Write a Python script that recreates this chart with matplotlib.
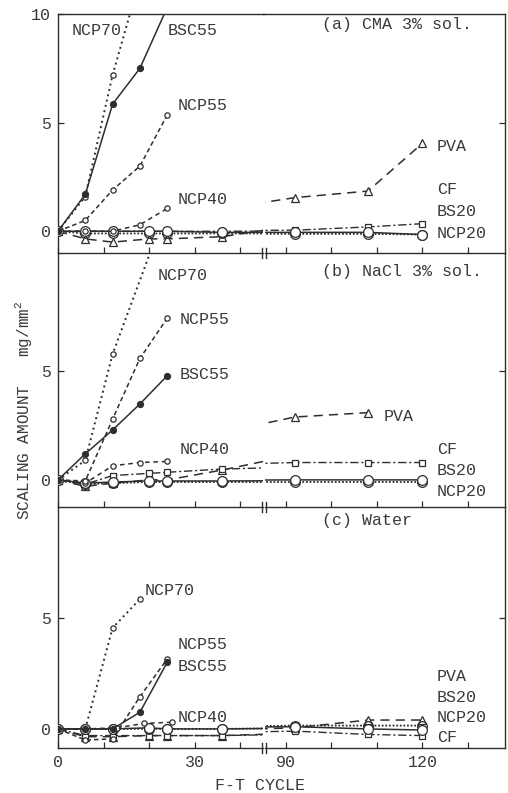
import matplotlib
matplotlib.use('Agg')
import matplotlib.pyplot as plt
from matplotlib.lines import Line2D

# ---- data (F-T cycles, scaling amount mg/mm2) ----
SHORT_X = [0, 6, 12, 18, 24]
LONG_X = [0, 6, 12, 20, 24, 36, 92, 108, 120]
TICKS_L = [0, 10, 20, 30, 40]; XLAB_L = ['0', '', '', '30', '']
TICKS_R = [90, 100, 110, 120, 130]; XLAB_R = ['90', '', '', '120', '']

# (a) CMA 3% sol.
a_ncp70_x = [0, 6, 12, 18]; a_ncp70 = [0, 1.6, 7.2, 11.6]
a_bsc55 = [0, 1.7, 5.85, 7.5, 10.3]
a_ncp55 = [0, 0.5, 1.9, 3.0, 5.35]
a_ncp40 = [0, 0, 0, 0.3, 1.05]
a_ncp20 = [0, 0, 0, 0, 0, -0.05, -0.05, -0.05, -0.15]
a_bs20 = [0, -0.1, -0.1, -0.1, -0.1, -0.1, -0.12, -0.12, -0.15]
a_cf = [0, 0, 0, 0, 0, 0, 0.05, 0.2, 0.35]
a_pva = [0, -0.35, -0.5, -0.35, -0.35, -0.25, 1.55, 1.85, 4.05]

# (b) NaCl 3% sol.
b_ncp70_x = [0, 6, 12, 24]; b_ncp70 = [0, 0.9, 5.8, 12.6]
b_ncp55 = [0, -0.05, 2.8, 5.6, 7.45]
b_bsc55 = [0, 1.2, 2.3, 3.5, 4.8]
b_ncp40 = [0, -0.15, 0.65, 0.8, 0.85]
b_ncp20 = [0, -0.15, -0.1, -0.05, -0.05, -0.05, 0, 0, 0]
b_bs20 = [0, -0.2, -0.15, -0.1, -0.1, -0.1, -0.1, -0.1, -0.1]
b_cf = [0, -0.2, 0.2, 0.3, 0.35, 0.5, 0.8, 0.8, 0.8]
b_pva_x = [0, 6, 12, 20, 24, 36, 92, 108]; b_pva = [0, -0.3, -0.15, 0, 0, 0.45, 2.9, 3.1]

# (c) Water
c_ncp70_x = [0, 6, 12, 18]; c_ncp70 = [0, 0, 4.55, 5.85]
c_ncp55 = [0, -0.5, -0.45, 1.45, 3.15]
c_bsc55 = [0, 0, 0, 0.75, 3.0]
c_ncp40_x = [0, 6, 13, 19, 25]; c_ncp40 = [0, 0, 0.05, 0.25, 0.3]
c_ncp20 = [0, 0, 0, 0.05, 0, 0, 0.1, 0, -0.05]
c_bs20 = [0, 0, 0, 0, 0, 0, 0.15, 0.15, 0.15]
c_cf = [0, -0.3, -0.3, -0.3, -0.3, -0.3, -0.1, -0.25, -0.3]
c_pva = [0, -0.35, -0.35, -0.3, -0.3, -0.3, 0.05, 0.4, 0.4]

INK = '#2e2e2e'; TXT = '#3a3a3a'
plt.rcParams['font.family'] = ['Liberation Mono', 'DejaVu Sans Mono']
plt.rcParams['font.size'] = 12
plt.rcParams['mathtext.fontset'] = 'custom'
plt.rcParams['mathtext.rm'] = 'Liberation Mono'

STY = {
    'PVA':   dict(ls=(0, (6, 4)), marker='^', ms=6, mfc='white', lw=1.1, zorder=2),
    'CF':    dict(ls=(0, (6, 2, 1.5, 2)), marker='s', ms=4.5, mfc='white', lw=1.0, zorder=2),
    'BS20':  dict(ls=(0, (1, 1)), marker='o', ms=7, mfc='none', lw=1.3, zorder=3),
    'NCP20': dict(ls='-', marker='o', ms=7, mfc='white', lw=1.1, zorder=3),
    'NCP40': dict(ls=(0, (3, 2.5)), marker='o', ms=3.8, mfc='white', lw=1.1, zorder=4),
    'NCP55': dict(ls=(0, (3, 2)), marker='o', ms=3.8, mfc='white', lw=1.1, zorder=4),
    'NCP70': dict(ls=(0, (1, 1.8)), marker='o', ms=3.8, mfc='white', lw=1.4, zorder=4),
    'BSC55': dict(ls='-', marker='o', ms=4.3, mfc=INK, lw=1.1, zorder=4),
}

panels = [
    dict(top=14, bot=253, ylim=(-1.0, 10.0), yt=[0, 5, 10], title='(a) CMA 3% sol.', ty=9.5,
         series=[('PVA', LONG_X, a_pva), ('CF', LONG_X, a_cf), ('BS20', LONG_X, a_bs20),
                 ('NCP20', LONG_X, a_ncp20), ('NCP40', SHORT_X, a_ncp40), ('NCP55', SHORT_X, a_ncp55),
                 ('NCP70', a_ncp70_x, a_ncp70), ('BSC55', SHORT_X, a_bsc55)],
         lab_l=[('NCP70', 3.1, 9.25), ('BSC55', 24.2, 9.25), ('NCP55', 26.4, 5.8), ('NCP40', 26.4, 1.45)],
         lab_r=[('PVA', 123.2, 3.9), ('CF', 123.2, 1.9), ('BS20', 123.2, 0.9), ('NCP20', 123.2, -0.1)]),
    dict(top=253, bot=507, ylim=(-1.25, 10.46), yt=[0, 5], title='(b) NaCl 3% sol.', ty=9.63,
         series=[('PVA', b_pva_x, b_pva), ('CF', LONG_X, b_cf), ('BS20', LONG_X, b_bs20),
                 ('NCP20', LONG_X, b_ncp20), ('NCP40', SHORT_X, b_ncp40), ('NCP55', SHORT_X, b_ncp55),
                 ('NCP70', b_ncp70_x, b_ncp70), ('BSC55', SHORT_X, b_bsc55)],
         lab_l=[('NCP70', 21.8, 9.4), ('NCP55', 26.8, 7.4), ('BSC55', 26.8, 4.85), ('NCP40', 26.8, 1.4)],
         lab_r=[('PVA', 111.4, 2.9), ('CF', 123.2, 1.4), ('BS20', 123.2, 0.45), ('NCP20', 123.2, -0.55)]),
    dict(top=507, bot=748, ylim=(-0.86, 10.0), yt=[0, 5], title='(c) Water', ty=9.41,
         series=[('PVA', LONG_X, c_pva), ('CF', LONG_X, c_cf), ('BS20', LONG_X, c_bs20),
                 ('NCP20', LONG_X, c_ncp20), ('NCP40', c_ncp40_x, c_ncp40), ('NCP55', SHORT_X, c_ncp55),
                 ('NCP70', c_ncp70_x, c_ncp70), ('BSC55', SHORT_X, c_bsc55)],
         lab_l=[('NCP70', 19.1, 6.25), ('NCP55', 26.4, 3.8), ('BSC55', 26.4, 2.8), ('NCP40', 26.4, 0.5)],
         lab_r=[('PVA', 123.2, 2.35), ('BS20', 123.2, 1.4), ('NCP20', 123.2, 0.5), ('CF', 123.2, -0.4)]),
]

W, H = 508, 793
S = 4.55                      # px per cycle
XL0, XR0, XR1 = 58, 265, 505
XBRK = XL0 + 45 * S
RLIM = (90 - (286 - XR0) / S, 90 - (286 - XR0) / S + (XR1 - XR0) / S)

fig = plt.figure(figsize=(W / 100, H / 100), dpi=100)
fig.patch.set_facecolor('white')

def rect(x0, x1, yt, yb):
    return [x0 / W, 1 - yb / H, (x1 - x0) / W, (yb - yt) / H]

for i, p in enumerate(panels):
    axl = fig.add_axes(rect(XL0, XBRK, p['top'], p['bot']))
    axr = fig.add_axes(rect(XR0, XR1, p['top'], p['bot']))
    for ax in (axl, axr):
        for name, xs, ys in p['series']:
            ax.plot(xs, ys, color=INK, mec=INK, mew=0.9, **STY[name])
        ax.set_ylim(*p['ylim'])
        ax.set_facecolor('none')
        for sp in ax.spines.values():
            sp.set_color(INK); sp.set_linewidth(1.0)
        if i > 0:
            ax.spines['top'].set_visible(False)
    axl.set_xlim(0, 45); axr.set_xlim(*RLIM)
    axl.spines['right'].set_visible(False); axr.spines['left'].set_visible(False)

    axl.set_xticks(TICKS_L); axr.set_xticks(TICKS_R)
    if i == 2:
        axl.set_xticklabels(XLAB_L); axr.set_xticklabels(XLAB_R)
    else:
        axl.set_xticklabels([]); axr.set_xticklabels([])
    for ax in (axl, axr):
        ax.tick_params(axis='x', direction='in', length=4, width=0.9, colors=INK,
                       labelcolor=TXT, labelsize=12, pad=5, top=False)
    axl.set_yticks(p['yt']); axl.set_yticklabels([str(v) for v in p['yt']])
    axl.tick_params(axis='y', direction='in', length=4, width=0.9, colors=INK,
                    labelcolor=TXT, labelsize=12, pad=5, right=False)
    axr.set_yticks([5]); axr.yaxis.tick_right()
    axr.tick_params(axis='y', direction='in', length=4, width=0.9, colors=INK,
                    labelright=False, left=False)

    for t, x, y in p['lab_l']:
        axl.text(x, y, t, color=TXT, ha='left', va='center', fontsize=12)
    for t, x, y in p['lab_r']:
        axr.text(x, y, t, color=TXT, ha='left', va='center', fontsize=12, clip_on=False)
    axr.text(98, p['ty'], p['title'], color=TXT, ha='left', va='center', fontsize=12)

    # axis break marks  -||-
    yb = 1 - p['bot'] / H
    for xb in (XBRK - 0.5, XR0 + 0.5):
        fig.add_artist(Line2D([xb / W, xb / W], [yb - 5 / H, yb + 5 / H], color=INK, lw=1.0))

# close the top frame over the break
fig.add_artist(Line2D([XBRK / W, XR0 / W], [1 - 14 / H, 1 - 14 / H], color=INK, lw=1.0))

fig.text(24 / W, 1 - 410 / H, 'SCALING AMOUNT   mg/mm$^{2}$', rotation=90, ha='center', va='center',
         color=TXT, fontsize=11.5)
fig.text(260 / W, 1 - 785 / H, 'F-T CYCLE', ha='center', va='center', color=TXT, fontsize=12)

fig.savefig('out.png', dpi=100, facecolor='white')
